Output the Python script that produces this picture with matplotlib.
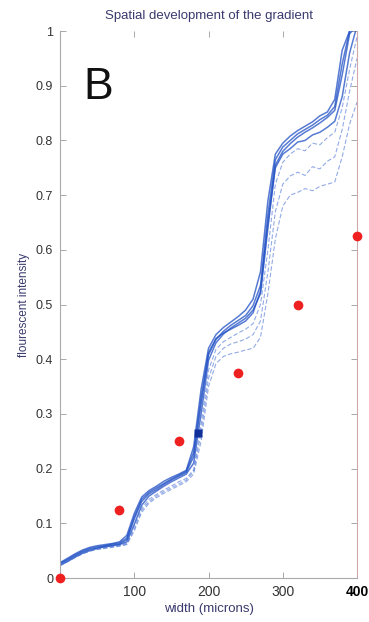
import matplotlib
matplotlib.use("Agg")
import matplotlib.pyplot as plt

plt.rcParams['font.family'] = ['Liberation Sans', 'DejaVu Sans']

# position across the tissue (microns), sampled every 10 um
width_um = list(range(0, 401, 10))

# measured fluorescence profiles, one per time point
profile_1 = [0.028, 0.036, 0.044, 0.051, 0.056, 0.059, 0.061, 0.063, 0.066, 0.078,
             0.118, 0.148, 0.160, 0.168, 0.177, 0.184, 0.190, 0.197, 0.240, 0.345,
             0.420, 0.445, 0.458, 0.468, 0.478, 0.490, 0.510, 0.560, 0.690, 0.775,
             0.795, 0.808, 0.818, 0.826, 0.834, 0.845, 0.852, 0.875, 0.965, 1.000, 1.010]
profile_2 = [0.025, 0.032, 0.040, 0.047, 0.052, 0.055, 0.058, 0.060, 0.062, 0.070,
             0.108, 0.140, 0.154, 0.162, 0.171, 0.179, 0.186, 0.193, 0.222, 0.318,
             0.408, 0.436, 0.451, 0.462, 0.471, 0.480, 0.498, 0.535, 0.665, 0.765,
             0.788, 0.800, 0.812, 0.820, 0.828, 0.838, 0.846, 0.862, 0.940, 1.000, 1.010]
profile_3 = [0.023, 0.030, 0.038, 0.045, 0.050, 0.054, 0.057, 0.059, 0.061, 0.066,
             0.098, 0.133, 0.150, 0.159, 0.168, 0.176, 0.183, 0.190, 0.210, 0.300,
             0.398, 0.430, 0.446, 0.457, 0.466, 0.475, 0.490, 0.520, 0.640, 0.755,
             0.780, 0.794, 0.806, 0.815, 0.823, 0.832, 0.842, 0.855, 0.920, 0.995, 1.010]
profile_4 = [0.027, 0.034, 0.042, 0.049, 0.054, 0.057, 0.059, 0.062, 0.064, 0.073,
             0.112, 0.144, 0.157, 0.165, 0.173, 0.181, 0.188, 0.195, 0.230, 0.330,
             0.412, 0.438, 0.448, 0.455, 0.462, 0.470, 0.485, 0.525, 0.650, 0.750,
             0.775, 0.785, 0.797, 0.800, 0.810, 0.815, 0.824, 0.835, 0.880, 0.960, 1.010]
profile_5 = [0.024, 0.031, 0.039, 0.046, 0.051, 0.054, 0.056, 0.058, 0.060, 0.064,
             0.096, 0.128, 0.144, 0.153, 0.161, 0.168, 0.176, 0.182, 0.198, 0.280,
             0.380, 0.418, 0.432, 0.440, 0.448, 0.455, 0.465, 0.500, 0.600, 0.720,
             0.760, 0.775, 0.785, 0.781, 0.795, 0.792, 0.805, 0.815, 0.860, 0.930, 0.990]
profile_6 = [0.024, 0.031, 0.038, 0.045, 0.050, 0.053, 0.055, 0.057, 0.059, 0.062,
             0.090, 0.124, 0.140, 0.150, 0.158, 0.165, 0.172, 0.179, 0.195, 0.265,
             0.365, 0.405, 0.420, 0.428, 0.432, 0.437, 0.445, 0.470, 0.560, 0.670,
             0.720, 0.735, 0.742, 0.736, 0.752, 0.748, 0.762, 0.770, 0.820, 0.890, 0.950]
profile_7 = [0.023, 0.030, 0.037, 0.044, 0.049, 0.052, 0.054, 0.056, 0.058, 0.061,
             0.086, 0.120, 0.137, 0.147, 0.155, 0.162, 0.169, 0.176, 0.190, 0.250,
             0.350, 0.392, 0.405, 0.410, 0.413, 0.417, 0.420, 0.440, 0.520, 0.620,
             0.680, 0.700, 0.705, 0.712, 0.708, 0.716, 0.720, 0.724, 0.770, 0.830, 0.870]

# expected linear gradient (red) and the reference point on the profile (dark blue)
target_x = [0, 80, 160, 240, 320, 400]
target_y = [0.0, 0.125, 0.25, 0.375, 0.5, 0.625]
marker_x = [186]
marker_y = [0.265]

y_ticks = [0, 0.1, 0.2, 0.3, 0.4, 0.5, 0.6, 0.7, 0.8, 0.9, 1]
y_labels = ['0', '0.1', '0.2', '0.3', '0.4', '0.5', '0.6', '0.7', '0.8', '0.9', '1']
x_ticks = [100, 200, 300, 400]
x_labels = ['100', '200', '300', '400']

fig = plt.figure(figsize=(3.69, 6.22), dpi=100)
ax = fig.add_axes([0.1626, 0.0707, 0.805, 0.8794])

for p in [profile_1, profile_2, profile_3, profile_4]:
    ax.plot(width_um, p, color='#1f4fc4', lw=1.1, alpha=0.75, solid_joinstyle='round')
for p in [profile_5, profile_6, profile_7]:
    ax.plot(width_um, p, color='#4a72d4', lw=0.8, alpha=0.6, ls=(0, (4, 2)))

ax.plot(target_x, target_y, 'o', color='#ee2020', ms=7, mec='none', clip_on=False, zorder=5)
ax.plot(marker_x, marker_y, 's', color='#12309a', ms=5.5, mec='none', zorder=5)

ax.set_xlim(0, 400)
ax.set_ylim(0, 1)
ax.set_xticks(x_ticks)
ax.set_xticklabels(x_labels, fontsize=10, color='#333333')
ax.get_xticklabels()[-1].set_fontweight('bold')
ax.get_xticklabels()[-1].set_color('black')
ax.set_yticks(y_ticks)
ax.set_yticklabels(y_labels, fontsize=9, color='#333333')
ax.tick_params(direction='in', length=4, width=0.6, color='#999999',
               top=True, right=True, pad=5)

for side in ['left', 'bottom']:
    ax.spines[side].set_color('#aaaaaa')
    ax.spines[side].set_linewidth(0.8)
ax.spines['right'].set_color('#cfa9a9')
ax.spines['right'].set_linewidth(0.8)
ax.spines['top'].set_visible(False)

ax.set_title('Spatial development of the gradient', fontsize=9.5, color='#3a3a6e', pad=9)
ax.set_xlabel('width (microns)', fontsize=9.5, color='#3a3a6e', labelpad=3)
ax.set_ylabel('flourescent intensity', fontsize=8.5, color='#3a3a6e', labelpad=4)

ax.text(0.08, 0.897, 'B', transform=ax.transAxes, fontsize=32, color='#111111',
        ha='left', va='center')

fig.savefig('out.png', dpi=100, facecolor='white')
